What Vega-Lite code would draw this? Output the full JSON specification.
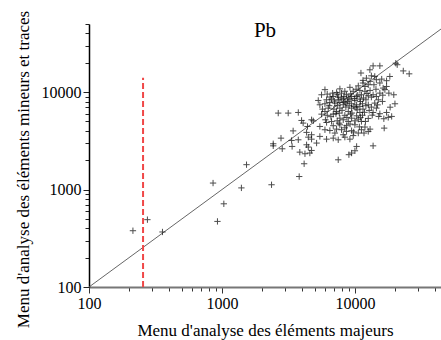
{
  "$schema": "https://vega.github.io/schema/vega-lite/v6.json",
  "autosize": "none",
  "width": 352,
  "height": 263,
  "padding": {"left": 89, "top": 24, "right": 0, "bottom": 53},
  "background": "white",
  "title": {"text": "Pb", "font": "Liberation Serif", "fontSize": 21, "fontWeight": "normal", "color": "black", "anchor": "middle", "frame": "group", "baseline": "alphabetic", "offset": -48},
  "config": {"view": {"stroke": null}, "title": {"font": "Liberation Serif", "fontSize": 21, "fontWeight": "normal"}},
  "encoding": {
    "x": {"type": "quantitative"},
    "y": {"type": "quantitative"}
  },
  "layer": [
    {
      "data": {"values": [{"x": 100, "y": 100}, {"x": 44400, "y": 44400}]},
      "mark": {"type": "line", "color": "#555", "strokeWidth": 0.9, "clip": true},
      "encoding": {
        "x": {"field": "x", "type": "quantitative",
          "scale": {"type": "log", "domain": [100, 44400], "nice": false},
          "axis": {
            "values": [100,200,300,400,500,600,700,800,900,1000,2000,3000,4000,5000,6000,7000,8000,9000,10000,20000,30000,40000],
            "labelExpr": "abs(log(datum.value)/LN10 - round(log(datum.value)/LN10)) < 0.01 ? format(datum.value, 'd') : ''",
            "labelOverlap": false, "labelBound": false, "labelFlush": false,
            "labelFont": "Liberation Serif", "labelFontSize": 16, "labelColor": "black", "labelPadding": 2,
            "tickColor": "#333",
            "tickSize": {"condition": {"test": "abs(log(datum.value)/LN10 - round(log(datum.value)/LN10)) < 0.01", "value": 6}, "value": 4},
            "domainColor": "#777", "domainWidth": 2, "grid": false,
            "title": "Menu d'analyse des éléments majeurs",
            "titleFont": "Liberation Serif", "titleFontSize": 17, "titleFontWeight": "normal", "titleColor": "black", "titlePadding": 11
          }
        },
        "y": {"field": "y", "type": "quantitative",
          "scale": {"type": "log", "domain": [100, 50000], "nice": false},
          "axis": {
            "values": [100,200,300,400,500,600,700,800,900,1000,2000,3000,4000,5000,6000,7000,8000,9000,10000,20000,30000,40000,50000],
            "labelExpr": "abs(log(datum.value)/LN10 - round(log(datum.value)/LN10)) < 0.01 ? format(datum.value, 'd') : ''",
            "labelOverlap": false, "labelBound": false, "labelFlush": false,
            "labelFont": "Liberation Serif", "labelFontSize": 16, "labelColor": "black", "labelPadding": 2,
            "tickColor": "#222",
            "tickSize": {"condition": {"test": "abs(log(datum.value)/LN10 - round(log(datum.value)/LN10)) < 0.01", "value": 6}, "value": 4},
            "domainColor": "black", "domainWidth": 1.5, "grid": false,
            "title": "Menu d'analyse des éléments mineurs et traces",
            "titleFont": "Liberation Serif", "titleFontSize": 17, "titleFontWeight": "normal", "titleColor": "black", "titlePadding": 9, "titleY": 145
          }
        }
      }
    },
    {
      "data": {"values": [{"x": 255, "y": 100, "y2": 14000}]},
      "mark": {"type": "rule", "color": "#f04848", "strokeWidth": 2, "strokeDash": [6, 3]},
      "encoding": {
        "x": {"field": "x", "type": "quantitative"},
        "y": {"field": "y", "type": "quantitative"},
        "y2": {"field": "y2"}
      }
    },
    {
      "data": {"values": [
        {"x": 214, "y": 378}, {"x": 275, "y": 491}, {"x": 357, "y": 367}, {"x": 857, "y": 1166}, {"x": 925, "y": 471}, {"x": 1033, "y": 714},
        {"x": 13700, "y": 18600}, {"x": 15400, "y": 18600}, {"x": 20300, "y": 19800}, {"x": 20800, "y": 19100}, {"x": 23100, "y": 16500}, {"x": 25600, "y": 15400},
        {"x": 11100, "y": 15700}, {"x": 13300, "y": 14700}, {"x": 14100, "y": 14500}, {"x": 12200, "y": 13900}, {"x": 11500, "y": 13200}, {"x": 13000, "y": 12900},
        {"x": 14500, "y": 13400}, {"x": 15900, "y": 13600}, {"x": 17300, "y": 13100}, {"x": 15400, "y": 12400}, {"x": 13900, "y": 11900}, {"x": 12600, "y": 11900},
        {"x": 11500, "y": 12400}, {"x": 10600, "y": 11600}, {"x": 16300, "y": 11000}, {"x": 14400, "y": 10700}, {"x": 13000, "y": 10400}, {"x": 11900, "y": 10200},
        {"x": 10900, "y": 10400}, {"x": 10200, "y": 10700}, {"x": 9700, "y": 10200}, {"x": 16800, "y": 10600}, {"x": 18000, "y": 9760}, {"x": 19600, "y": 9390},
        {"x": 13700, "y": 9390}, {"x": 12600, "y": 9170}, {"x": 11200, "y": 9390}, {"x": 10300, "y": 9020}, {"x": 9440, "y": 9020}, {"x": 8650, "y": 9390},
        {"x": 7930, "y": 9760}, {"x": 7280, "y": 9920}, {"x": 6800, "y": 9760}, {"x": 6190, "y": 9540}, {"x": 5610, "y": 9390}, {"x": 5300, "y": 8210},
        {"x": 6120, "y": 8340}, {"x": 6670, "y": 8470}, {"x": 7490, "y": 8340}, {"x": 8170, "y": 8470}, {"x": 9170, "y": 8340}, {"x": 10000, "y": 8210},
        {"x": 10900, "y": 8470}, {"x": 12100, "y": 8340}, {"x": 13300, "y": 8880}, {"x": 14500, "y": 9020}, {"x": 16100, "y": 8020}, {"x": 14100, "y": 7710},
        {"x": 12600, "y": 7410}, {"x": 11400, "y": 7590}, {"x": 10300, "y": 7410}, {"x": 9440, "y": 7590}, {"x": 8550, "y": 7710}, {"x": 7710, "y": 7830},
        {"x": 7070, "y": 7710}, {"x": 6480, "y": 7830}, {"x": 5950, "y": 7590}, {"x": 5450, "y": 7410}, {"x": 20000, "y": 7590}, {"x": 18400, "y": 7000},
        {"x": 5700, "y": 6690}, {"x": 6300, "y": 6850}, {"x": 6950, "y": 6690}, {"x": 7710, "y": 6850}, {"x": 8550, "y": 7020}, {"x": 9440, "y": 6850},
        {"x": 10400, "y": 6590}, {"x": 11500, "y": 6690}, {"x": 12800, "y": 6490}, {"x": 13700, "y": 6180}, {"x": 15400, "y": 6000}, {"x": 17300, "y": 6180},
        {"x": 18900, "y": 5630}, {"x": 17800, "y": 5500}, {"x": 16500, "y": 5330}, {"x": 15100, "y": 5630}, {"x": 2650, "y": 6090}, {"x": 3150, "y": 6090},
        {"x": 3750, "y": 6180}, {"x": 5610, "y": 5940}, {"x": 6190, "y": 5780}, {"x": 6870, "y": 5940}, {"x": 7630, "y": 6090}, {"x": 8400, "y": 5780},
        {"x": 9270, "y": 5940}, {"x": 10300, "y": 5710}, {"x": 11400, "y": 5790}, {"x": 12600, "y": 5370}, {"x": 4720, "y": 5200}, {"x": 4860, "y": 5070},
        {"x": 5450, "y": 4440}, {"x": 6120, "y": 4880}, {"x": 6670, "y": 5000}, {"x": 7360, "y": 5070}, {"x": 8170, "y": 5200}, {"x": 8910, "y": 5000},
        {"x": 10000, "y": 5070}, {"x": 11200, "y": 5000}, {"x": 3970, "y": 5120}, {"x": 4080, "y": 4810}, {"x": 4400, "y": 4440}, {"x": 3430, "y": 4000},
        {"x": 4330, "y": 3860}, {"x": 4720, "y": 3650}, {"x": 5950, "y": 4110}, {"x": 6480, "y": 4040}, {"x": 7280, "y": 4170}, {"x": 7930, "y": 4110},
        {"x": 8650, "y": 3950}, {"x": 9440, "y": 4020}, {"x": 11900, "y": 4380}, {"x": 13000, "y": 4170}, {"x": 16600, "y": 4270}, {"x": 2780, "y": 3370},
        {"x": 3340, "y": 3190}, {"x": 3750, "y": 3240}, {"x": 4460, "y": 3450}, {"x": 4720, "y": 3290}, {"x": 6120, "y": 3290}, {"x": 6870, "y": 3370},
        {"x": 7490, "y": 3240}, {"x": 8400, "y": 3450}, {"x": 9170, "y": 3290}, {"x": 11700, "y": 3800}, {"x": 12600, "y": 3950}, {"x": 2430, "y": 2950},
        {"x": 2430, "y": 2810}, {"x": 2840, "y": 2620}, {"x": 3370, "y": 2770}, {"x": 4330, "y": 2880}, {"x": 4460, "y": 2730}, {"x": 3850, "y": 2420},
        {"x": 4210, "y": 2330}, {"x": 4580, "y": 2370}, {"x": 4720, "y": 2520}, {"x": 13700, "y": 2810}, {"x": 10300, "y": 2770}, {"x": 7490, "y": 2020},
        {"x": 9010, "y": 2280}, {"x": 9440, "y": 2370}, {"x": 10000, "y": 2500}, {"x": 1530, "y": 1800}, {"x": 4150, "y": 1840}, {"x": 3810, "y": 1360},
        {"x": 2360, "y": 1120}, {"x": 1400, "y": 1040},
        {"x": 5950, "y": 10600}, {"x": 7710, "y": 10800}, {"x": 8400, "y": 10200}, {"x": 9170, "y": 11200}, {"x": 6870, "y": 9020}, {"x": 7490, "y": 8880},
        {"x": 8270, "y": 9020}, {"x": 8910, "y": 8680}, {"x": 6410, "y": 7250}, {"x": 7360, "y": 7250}, {"x": 8170, "y": 7410}, {"x": 9060, "y": 7250},
        {"x": 9830, "y": 7130}, {"x": 10900, "y": 7130}, {"x": 12100, "y": 7250}, {"x": 5950, "y": 6330}, {"x": 7280, "y": 6330}, {"x": 8910, "y": 6330},
        {"x": 10900, "y": 6180}, {"x": 13300, "y": 7020}, {"x": 14500, "y": 6850}, {"x": 7710, "y": 5400}, {"x": 9440, "y": 5400}, {"x": 10600, "y": 5280},
        {"x": 6870, "y": 4520}, {"x": 7710, "y": 4620}, {"x": 8650, "y": 4520}, {"x": 10000, "y": 4620}, {"x": 11200, "y": 4110}, {"x": 8170, "y": 3650},
        {"x": 9710, "y": 3580}, {"x": 10600, "y": 3800}, {"x": 7070, "y": 3800}, {"x": 5450, "y": 3510}, {"x": 5150, "y": 3000}, {"x": 15000, "y": 8340},
        {"x": 15400, "y": 9760}, {"x": 11900, "y": 11430}, {"x": 17300, "y": 11430}, {"x": 12960, "y": 16940}, {"x": 18300, "y": 14470},
        {"x": 6500, "y": 8900}, {"x": 7000, "y": 8100}, {"x": 7400, "y": 9400}, {"x": 7900, "y": 8700}, {"x": 8300, "y": 7900}, {"x": 8800, "y": 8000},
        {"x": 9300, "y": 9600}, {"x": 9900, "y": 8600}, {"x": 10500, "y": 9300}, {"x": 11000, "y": 8000}, {"x": 11600, "y": 8700}, {"x": 12300, "y": 9700},
        {"x": 7200, "y": 6000}, {"x": 8000, "y": 6500}, {"x": 8700, "y": 5500}, {"x": 9500, "y": 6100}, {"x": 10200, "y": 6900}, {"x": 11000, "y": 5500},
        {"x": 11800, "y": 6200}, {"x": 6600, "y": 5600}, {"x": 6000, "y": 5200}, {"x": 7600, "y": 4800}, {"x": 8400, "y": 4300}, {"x": 9200, "y": 4700},
        {"x": 9800, "y": 3900}, {"x": 10800, "y": 4400}, {"x": 12000, "y": 5000}, {"x": 13500, "y": 5800}, {"x": 14800, "y": 7400}, {"x": 16200, "y": 9300}
      ]},
      "mark": {"type": "point", "shape": "M-1,0L1,0M0,-1L0,1", "size": 40, "filled": false, "stroke": "#111", "strokeWidth": 1, "opacity": 0.75},
      "encoding": {
        "x": {"field": "x", "type": "quantitative"},
        "y": {"field": "y", "type": "quantitative"}
      }
    }
  ]
}
